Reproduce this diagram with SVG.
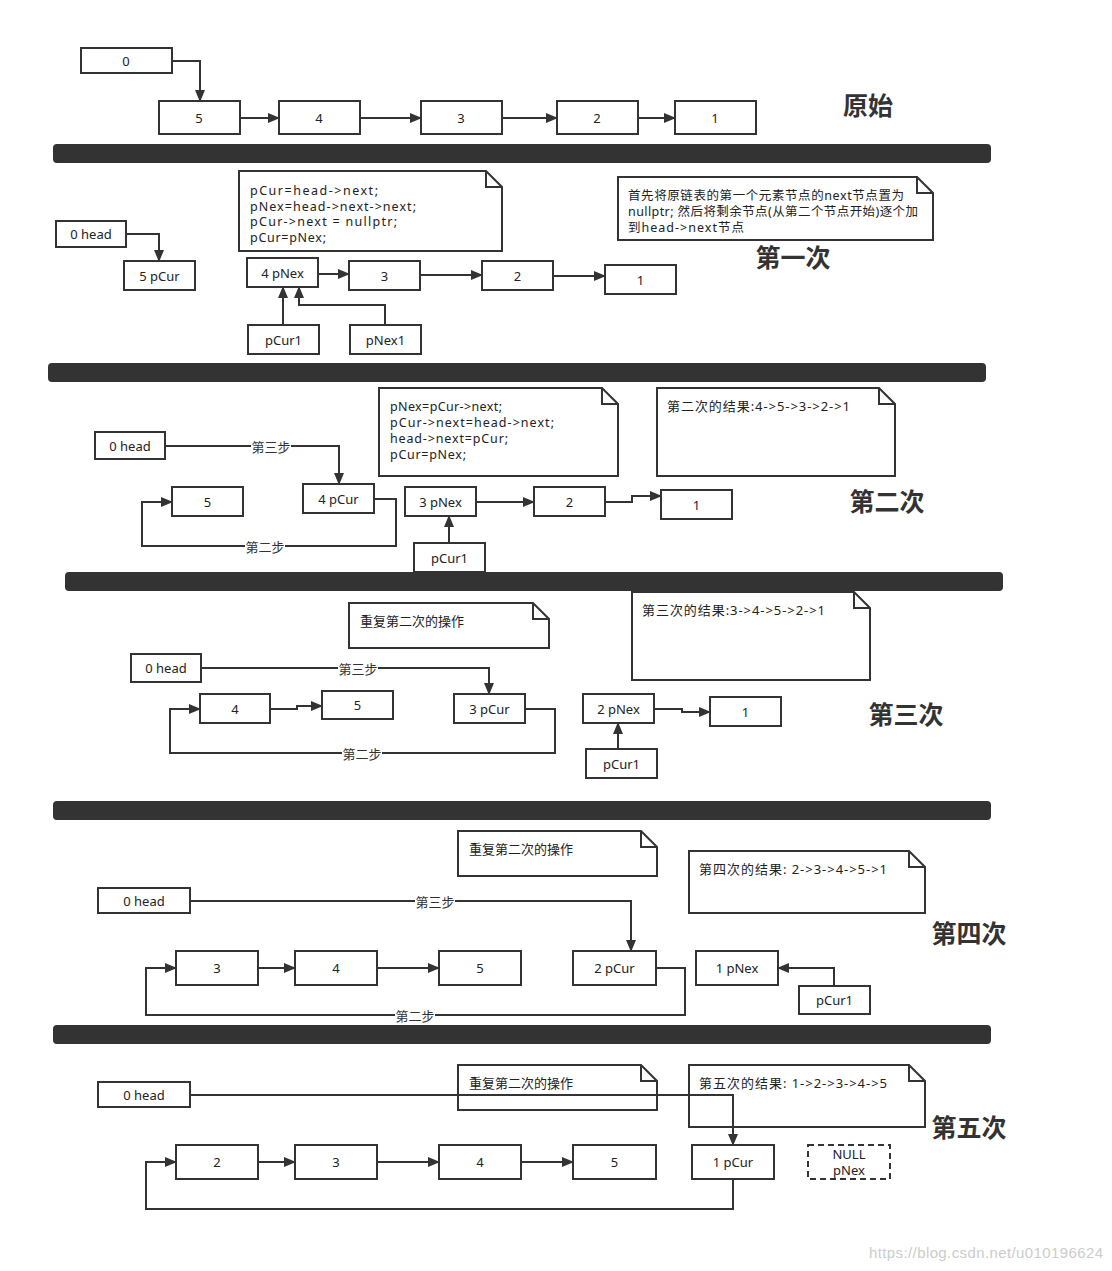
<svg xmlns="http://www.w3.org/2000/svg" width="1112" height="1271" viewBox="0 0 1112 1271">
<defs>
<marker id="ah" markerUnits="userSpaceOnUse" markerWidth="12" markerHeight="10" refX="11" refY="5" orient="auto">
<path d="M0,0 L12,5 L0,10 Z" fill="#333"/>
</marker>
<style>
.b{fill:#fff;stroke:#333;stroke-width:2}
.d{fill:#fff;stroke:#333;stroke-width:2;stroke-dasharray:6 4}
.t{font-family:"Noto Sans","Noto Sans CJK SC",sans-serif;font-size:13px;fill:#222;text-anchor:middle;dominant-baseline:central}
.n{font-family:"Noto Sans","Noto Sans CJK SC",sans-serif;font-size:13px;fill:#222}
.m{font-family:"Noto Sans","Noto Sans CJK SC",sans-serif;font-size:12.5px;fill:#222}
.h{font-family:"Noto Sans CJK SC",sans-serif;font-size:25px;font-weight:bold;fill:#333;text-anchor:middle;dominant-baseline:central}
.bar{fill:#333}
.c{fill:none;stroke:#333;stroke-width:2;marker-end:url(#ah)}
.cl{fill:none;stroke:#333;stroke-width:2}
.lb{fill:#fff}
.l{font-family:"Noto Sans CJK SC",sans-serif;font-size:13px;fill:#333;text-anchor:middle;dominant-baseline:central}
.w{font-family:"Liberation Sans",sans-serif;font-size:15px;fill:#ccc}
</style>
</defs>
<rect width="1112" height="1271" fill="#fff"/>

<!-- separators -->
<g id="separators">
<rect class="bar" x="53" y="144" width="938" height="19" rx="4"/>
<rect class="bar" x="48" y="363" width="938" height="19" rx="4"/>
<rect class="bar" x="65" y="572" width="938" height="19" rx="4"/>
<rect class="bar" x="53" y="801" width="938" height="19" rx="4"/>
<rect class="bar" x="53" y="1025" width="938" height="19" rx="4"/>
</g>

<!-- titles -->
<g id="titles">
<text class="h" x="868" y="104">原始</text>
<text class="h" x="793" y="256">第一次</text>
<text class="h" x="887" y="500">第二次</text>
<text class="h" x="906" y="713">第三次</text>
<text class="h" x="969" y="932">第四次</text>
<text class="h" x="969" y="1126">第五次</text>
</g>

<!-- Section 0 -->
<g id="s0-n0"><rect class="b" x="81" y="48" width="91" height="25"/><text class="t" x="126" y="60.5">0</text></g>
<g id="s0-n5"><rect class="b" x="159" y="101" width="81" height="33"/><text class="t" x="199" y="117.5">5</text></g>
<g id="s0-n4"><rect class="b" x="279" y="101" width="81" height="33"/><text class="t" x="319" y="117.5">4</text></g>
<g id="s0-n3"><rect class="b" x="421" y="101" width="81" height="33"/><text class="t" x="461" y="117.5">3</text></g>
<g id="s0-n2"><rect class="b" x="557" y="101" width="81" height="33"/><text class="t" x="597" y="117.5">2</text></g>
<g id="s0-n1"><rect class="b" x="675" y="101" width="81" height="33"/><text class="t" x="715" y="117.5">1</text></g>

<!-- Section 1 -->
<g id="s1-note1">
<path class="b" d="M239,171 H486 L502,187 V251 H239 Z"/><path class="cl" d="M486,171 V187 H502"/>
<text class="m" x="250" y="194.5" textLength="128" lengthAdjust="spacing">pCur=head-&gt;next;</text>
<text class="m" x="250" y="210.5" textLength="166" lengthAdjust="spacing">pNex=head-&gt;next-&gt;next;</text>
<text class="m" x="250" y="225.5" textLength="147" lengthAdjust="spacing">pCur-&gt;next = nullptr;</text>
<text class="m" x="250" y="241.5" textLength="76" lengthAdjust="spacing">pCur=pNex;</text>
</g>
<g id="s1-note2">
<path class="b" d="M618,177 H917 L933,193 V240 H618 Z"/><path class="cl" d="M917,177 V193 H933"/>
<text class="m" x="628" y="200" textLength="276" lengthAdjust="spacing">首先将原链表的第一个元素节点的next节点置为</text>
<text class="m" x="628" y="216" textLength="290" lengthAdjust="spacing">nullptr; 然后将剩余节点(从第二个节点开始)逐个加</text>
<text class="m" x="628" y="232" textLength="116" lengthAdjust="spacing">到head-&gt;next节点</text>
</g>
<g id="s1-head"><rect class="b" x="56" y="221" width="70" height="26"/><text class="t" x="91" y="234">0 head</text></g>
<g id="s1-n5"><rect class="b" x="124" y="261" width="71" height="29"/><text class="t" x="159.5" y="275.5">5 pCur</text></g>
<g id="s1-n4"><rect class="b" x="247" y="258" width="71" height="29"/><text class="t" x="282.5" y="272.5">4 pNex</text></g>
<g id="s1-n3"><rect class="b" x="349" y="261" width="71" height="29"/><text class="t" x="384.5" y="275.5">3</text></g>
<g id="s1-n2"><rect class="b" x="482" y="261" width="71" height="29"/><text class="t" x="517.5" y="275.5">2</text></g>
<g id="s1-n1"><rect class="b" x="605" y="265" width="71" height="29"/><text class="t" x="640.5" y="279.5">1</text></g>
<g id="s1-pcur1"><rect class="b" x="248" y="325" width="71" height="29"/><text class="t" x="283.5" y="339.5">pCur1</text></g>
<g id="s1-pnex1"><rect class="b" x="350" y="325" width="71" height="29"/><text class="t" x="385.5" y="339.5">pNex1</text></g>

<!-- Section 2 -->
<g id="s2-note1">
<path class="b" d="M379,388 H602 L618,404 V476 H379 Z"/><path class="cl" d="M602,388 V404 H618"/>
<text class="m" x="390" y="411" textLength="112" lengthAdjust="spacing">pNex=pCur-&gt;next;</text>
<text class="m" x="390" y="427" textLength="164" lengthAdjust="spacing">pCur-&gt;next=head-&gt;next;</text>
<text class="m" x="390" y="443" textLength="118" lengthAdjust="spacing">head-&gt;next=pCur;</text>
<text class="m" x="390" y="459" textLength="76" lengthAdjust="spacing">pCur=pNex;</text>
</g>
<g id="s2-note2">
<path class="b" d="M657,388 H879 L895,404 V476 H657 Z"/><path class="cl" d="M879,388 V404 H895"/>
<text class="n" x="667" y="411" textLength="183" lengthAdjust="spacing">第二次的结果:4-&gt;5-&gt;3-&gt;2-&gt;1</text>
</g>
<g id="s2-head"><rect class="b" x="95" y="432" width="70" height="27"/><text class="t" x="130" y="445.5">0 head</text></g>
<g id="s2-n5"><rect class="b" x="172" y="487" width="71" height="29"/><text class="t" x="207.5" y="501.5">5</text></g>
<g id="s2-n4"><rect class="b" x="303" y="484" width="71" height="29"/><text class="t" x="338.5" y="498.5">4 pCur</text></g>
<g id="s2-n3"><rect class="b" x="405" y="487" width="71" height="29"/><text class="t" x="440.5" y="501.5">3 pNex</text></g>
<g id="s2-n2"><rect class="b" x="534" y="487" width="71" height="29"/><text class="t" x="569.5" y="501.5">2</text></g>
<g id="s2-n1"><rect class="b" x="661" y="490" width="71" height="29"/><text class="t" x="696.5" y="504.5">1</text></g>
<g id="s2-pcur1"><rect class="b" x="414" y="543" width="71" height="29"/><text class="t" x="449.5" y="557.5">pCur1</text></g>

<!-- Section 3 -->
<g id="s3-note1">
<path class="b" d="M349,603 H533 L549,619 V648 H349 Z"/><path class="cl" d="M533,603 V619 H549"/>
<text class="n" x="360" y="626">重复第二次的操作</text>
</g>
<g id="s3-note2">
<path class="b" d="M632,592 H854 L870,608 V680 H632 Z"/><path class="cl" d="M854,592 V608 H870"/>
<text class="n" x="642" y="615" textLength="183" lengthAdjust="spacing">第三次的结果:3-&gt;4-&gt;5-&gt;2-&gt;1</text>
</g>
<g id="s3-head"><rect class="b" x="131" y="654" width="70" height="28"/><text class="t" x="166" y="668">0 head</text></g>
<g id="s3-n4"><rect class="b" x="200" y="694" width="70" height="29"/><text class="t" x="235" y="708.5">4</text></g>
<g id="s3-n5"><rect class="b" x="322" y="691" width="71" height="28"/><text class="t" x="357.5" y="705">5</text></g>
<g id="s3-n3"><rect class="b" x="454" y="694" width="71" height="29"/><text class="t" x="489.5" y="708.5">3 pCur</text></g>
<g id="s3-n2"><rect class="b" x="583" y="694" width="71" height="29"/><text class="t" x="618.5" y="708.5">2 pNex</text></g>
<g id="s3-n1"><rect class="b" x="710" y="697" width="71" height="29"/><text class="t" x="745.5" y="711.5">1</text></g>
<g id="s3-pcur1"><rect class="b" x="586" y="749" width="71" height="29"/><text class="t" x="621.5" y="763.5">pCur1</text></g>

<!-- Section 4 -->
<g id="s4-note1">
<path class="b" d="M458,831 H641 L657,847 V876 H458 Z"/><path class="cl" d="M641,831 V847 H657"/>
<text class="n" x="469" y="854">重复第二次的操作</text>
</g>
<g id="s4-note2">
<path class="b" d="M689,851 H909 L925,867 V913 H689 Z"/><path class="cl" d="M909,851 V867 H925"/>
<text class="n" x="699" y="874" textLength="188" lengthAdjust="spacing">第四次的结果: 2-&gt;3-&gt;4-&gt;5-&gt;1</text>
</g>
<g id="s4-head"><rect class="b" x="98" y="888" width="92" height="25"/><text class="t" x="144" y="900.5">0 head</text></g>
<g id="s4-n3"><rect class="b" x="176" y="951" width="82" height="34"/><text class="t" x="217" y="968">3</text></g>
<g id="s4-n4"><rect class="b" x="295" y="951" width="82" height="34"/><text class="t" x="336" y="968">4</text></g>
<g id="s4-n5"><rect class="b" x="439" y="951" width="82" height="34"/><text class="t" x="480" y="968">5</text></g>
<g id="s4-n2"><rect class="b" x="573" y="951" width="83" height="34"/><text class="t" x="614.5" y="968">2 pCur</text></g>
<g id="s4-n1"><rect class="b" x="696" y="951" width="82" height="34"/><text class="t" x="737" y="968">1 pNex</text></g>
<g id="s4-pcur1"><rect class="b" x="799" y="986" width="71" height="28"/><text class="t" x="834.5" y="1000">pCur1</text></g>

<!-- Section 5 -->
<g id="s5-note1">
<path class="b" d="M458,1065 H641 L657,1081 V1110 H458 Z"/><path class="cl" d="M641,1065 V1081 H657"/>
<text class="n" x="469" y="1088">重复第二次的操作</text>
</g>
<g id="s5-note2">
<path class="b" d="M689,1065 H909 L925,1081 V1127 H689 Z"/><path class="cl" d="M909,1065 V1081 H925"/>
<text class="n" x="699" y="1088" textLength="188" lengthAdjust="spacing">第五次的结果: 1-&gt;2-&gt;3-&gt;4-&gt;5</text>
</g>
<g id="s5-head"><rect class="b" x="98" y="1082" width="92" height="25"/><text class="t" x="144" y="1094.5">0 head</text></g>
<g id="s5-n2"><rect class="b" x="176" y="1145" width="82" height="34"/><text class="t" x="217" y="1162">2</text></g>
<g id="s5-n3"><rect class="b" x="295" y="1145" width="82" height="34"/><text class="t" x="336" y="1162">3</text></g>
<g id="s5-n4"><rect class="b" x="439" y="1145" width="82" height="34"/><text class="t" x="480" y="1162">4</text></g>
<g id="s5-n5"><rect class="b" x="573" y="1145" width="83" height="34"/><text class="t" x="614.5" y="1162">5</text></g>
<g id="s5-n1"><rect class="b" x="692" y="1145" width="82" height="34"/><text class="t" x="733" y="1162">1 pCur</text></g>
<g id="s5-null"><rect class="d" x="808" y="1145" width="82" height="34"/><text class="t" x="849" y="1154">NULL</text><text class="t" x="849" y="1170">pNex</text></g>

<!-- connectors -->
<g id="connectors">
<path class="c" d="M172,61 H200 V101"/>
<path class="c" d="M240,118 H279"/>
<path class="c" d="M360,118 H421"/>
<path class="c" d="M502,118 H557"/>
<path class="c" d="M638,118 H675"/>

<path class="c" d="M126,234 H159 V261"/>
<path class="c" d="M318,274 H349"/>
<path class="c" d="M420,275 H482"/>
<path class="c" d="M553,276 H605"/>
<path class="c" d="M283,325 V287"/>
<path class="c" d="M385,325 V305 H299 V287"/>

<path class="c" d="M165,446 H339 V484"/>
<rect class="lb" x="251" y="438" width="40" height="16"/><text class="l" x="271" y="446">第三步</text>
<path class="c" d="M374,499 H396 V546 H142 V502 H172"/>
<rect class="lb" x="245" y="538" width="40" height="16"/><text class="l" x="265" y="546">第二步</text>
<path class="c" d="M476,502 H534"/>
<path class="c" d="M605,502 H632 V496 H661"/>
<path class="c" d="M449,543 V516"/>

<path class="c" d="M201,668 H489 V694"/>
<rect class="lb" x="338" y="660" width="40" height="16"/><text class="l" x="358" y="668">第三步</text>
<path class="c" d="M525,709 H555 V753 H170 V709 H200"/>
<rect class="lb" x="342" y="745" width="40" height="16"/><text class="l" x="362" y="753">第二步</text>
<path class="c" d="M270,709 H297 V706 H322"/>
<path class="c" d="M654,709 H682 V712 H710"/>
<path class="c" d="M618,749 V723"/>

<path class="c" d="M190,901 H631 V951"/>
<rect class="lb" x="415" y="893" width="40" height="16"/><text class="l" x="435" y="901">第三步</text>
<path class="c" d="M656,968 H685 V1015 H146 V968 H176"/>
<rect class="lb" x="395" y="1007" width="40" height="16"/><text class="l" x="415" y="1015">第二步</text>
<path class="c" d="M258,968 H295"/>
<path class="c" d="M377,968 H439"/>
<path class="c" d="M834,986 V968 H778"/>

<path class="c" d="M190,1095 H733 V1145"/>
<path class="c" d="M733,1179 V1209 H146 V1162 H176"/>
<path class="c" d="M258,1162 H295"/>
<path class="c" d="M377,1162 H439"/>
<path class="c" d="M521,1162 H573"/>
</g>

<text class="w" x="869" y="1258" textLength="234" lengthAdjust="spacing">https://blog.csdn.net/u010196624</text>
</svg>
